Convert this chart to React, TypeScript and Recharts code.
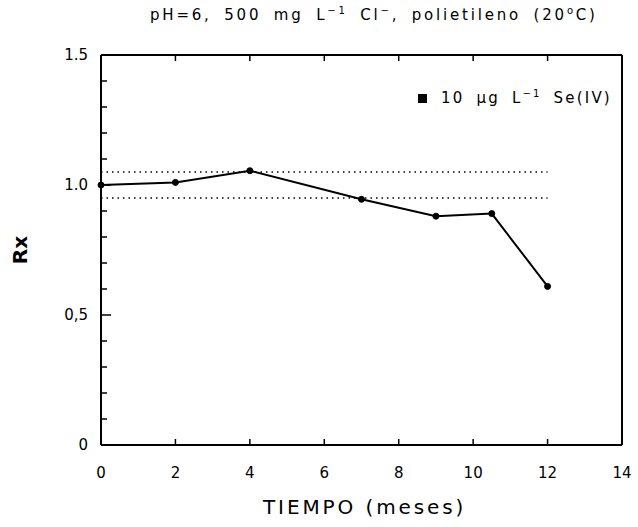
import React from 'react';
import { LineChart, Line, XAxis, YAxis, ReferenceLine } from 'recharts';

const months = [0, 2, 4, 7, 9, 10.5, 12];
const rx = [1.0, 1.01, 1.055, 0.945, 0.88, 0.89, 0.61];
const limitUpper = 1.05;
const limitLower = 0.95;
const limitEnd = 12;
const xTicks = [0, 2, 4, 6, 8, 10, 12, 14];
const yTicks = [0, 0.1, 0.2, 0.3, 0.4, 0.5, 0.6, 0.7, 0.8, 0.9, 1.0, 1.1, 1.2, 1.3, 1.4, 1.5];
const yLabels: Record<string, string> = { '0': '0', '0.5': '0,5', '1': '1.0', '1.5': '1.5' };

const data = months.map((m, i) => ({ t: m, rx: rx[i] }));

const FONT = '"DejaVu Sans", "Liberation Sans", Arial, sans-serif';

const isMajor = (v: number) => Math.abs(v * 2 - Math.round(v * 2)) < 1e-6;

const LeftTick = (props: any) => {
  const { x, y, payload } = props;
  const v = payload.value;
  const major = isMajor(v);
  const key = String(Math.round(v * 10) / 10);
  return (
    <g>
      <line x1={x} x2={x + (major ? 10 : 6)} y1={y} y2={y} stroke="#000" strokeWidth={1.5} />
      {major && (
        <text x={x - 13} y={y + 5} textAnchor="end" fontSize={15} fontFamily={FONT} fill="#000">
          {yLabels[key] ?? key}
        </text>
      )}
    </g>
  );
};

const RightTick = (props: any) => {
  const { x, y, payload } = props;
  const major = isMajor(payload.value);
  return <line x1={x} x2={x - (major ? 10 : 6)} y1={y} y2={y} stroke="#000" strokeWidth={1.5} />;
};

const BottomTick = (props: any) => {
  const { x, y, payload } = props;
  const v = payload.value;
  return (
    <g>
      {v !== 0 && v !== 14 && <line x1={x} x2={x} y1={y} y2={y - 6} stroke="#000" strokeWidth={1.5} />}
      <text x={x} y={y + 33} textAnchor="middle" fontSize={15} fontFamily={FONT} fill="#000">
        {v}
      </text>
    </g>
  );
};

const TopTick = (props: any) => {
  const { x, y, payload } = props;
  const v = payload.value;
  if (v === 0 || v === 14) return <g />;
  return <line x1={x} x2={x} y1={y} y2={y + 6} stroke="#000" strokeWidth={1.5} />;
};

export default function App() {
  return (
    <div style={{ position: 'absolute', left: 0, top: 0, width: 638, height: 527, background: '#fff' }}>
      <LineChart
        width={638}
        height={527}
        data={data}
        margin={{ top: 54, right: 15, bottom: 81, left: 100 }}
      >
        <XAxis
          xAxisId="b"
          dataKey="t"
          type="number"
          domain={[0, 14]}
          ticks={xTicks}
          height={1}
          tickSize={0}
          tickMargin={0}
          tick={BottomTick}
          tickLine={false}
          axisLine={{ stroke: '#000', strokeWidth: 2 }}
          interval={0}
        />
        <XAxis
          xAxisId="t"
          orientation="top"
          type="number"
          dataKey="t"
          domain={[0, 14]}
          ticks={xTicks}
          height={1}
          tickSize={0}
          tickMargin={0}
          tick={TopTick}
          tickLine={false}
          axisLine={{ stroke: '#000', strokeWidth: 2 }}
          interval={0}
        />
        <YAxis
          yAxisId="l"
          type="number"
          domain={[0, 1.5]}
          ticks={yTicks}
          width={1}
          tickSize={0}
          tickMargin={0}
          tick={LeftTick}
          tickLine={false}
          axisLine={{ stroke: '#000', strokeWidth: 2 }}
          interval={0}
        />
        <YAxis
          yAxisId="r"
          orientation="right"
          type="number"
          domain={[0, 1.5]}
          ticks={yTicks}
          width={1}
          tickSize={0}
          tickMargin={0}
          tick={RightTick}
          tickLine={false}
          axisLine={{ stroke: '#000', strokeWidth: 2 }}
          interval={0}
        />
        <ReferenceLine
          xAxisId="b"
          yAxisId="l"
          segment={[{ x: 0, y: limitUpper }, { x: limitEnd, y: limitUpper }]}
          stroke="#000"
          strokeWidth={1.6}
          strokeDasharray="1.5 4"
          ifOverflow="visible"
        />
        <ReferenceLine
          xAxisId="b"
          yAxisId="l"
          segment={[{ x: 0, y: limitLower }, { x: limitEnd, y: limitLower }]}
          stroke="#000"
          strokeWidth={1.6}
          strokeDasharray="1.5 4"
          ifOverflow="visible"
        />
        <Line
          xAxisId="b"
          yAxisId="l"
          dataKey="rx"
          stroke="#000"
          strokeWidth={2}
          dot={{ r: 3, fill: '#000', stroke: '#000', strokeWidth: 1 }}
          isAnimationActive={false}
        />
      </LineChart>
      <div style={{ position: 'absolute', left: 150, top: 5, fontFamily: FONT, fontSize: 15, letterSpacing: 2.8, wordSpacing: 5, whiteSpace: 'nowrap' }}>
        pH=6, 500 mg L<sup style={{ fontSize: 10 }}>−1</sup> Cl<sup style={{ fontSize: 10 }}>−</sup>, polietileno (20<sup style={{ fontSize: 10 }}>o</sup>C)
      </div>
      <div style={{ position: 'absolute', left: 418, top: 88, fontFamily: FONT, fontSize: 15, letterSpacing: 2.2, wordSpacing: 5, whiteSpace: 'nowrap' }}>
        <span style={{ display: 'inline-block', width: 9, height: 9, background: '#000', marginRight: 14 }} />
        10 μg L<sup style={{ fontSize: 10 }}>−1</sup> Se(IV)
      </div>
      <div style={{ position: 'absolute', left: 263, top: 495, fontFamily: FONT, fontSize: 20, letterSpacing: 2.9, whiteSpace: 'nowrap' }}>
        TIEMPO (meses)
      </div>
      <div style={{ position: 'absolute', left: 6, top: 238, fontFamily: FONT, fontSize: 20, fontWeight: 'bold', transform: 'rotate(-90deg)', transformOrigin: 'center' }}>
        Rx
      </div>
    </div>
  );
}
